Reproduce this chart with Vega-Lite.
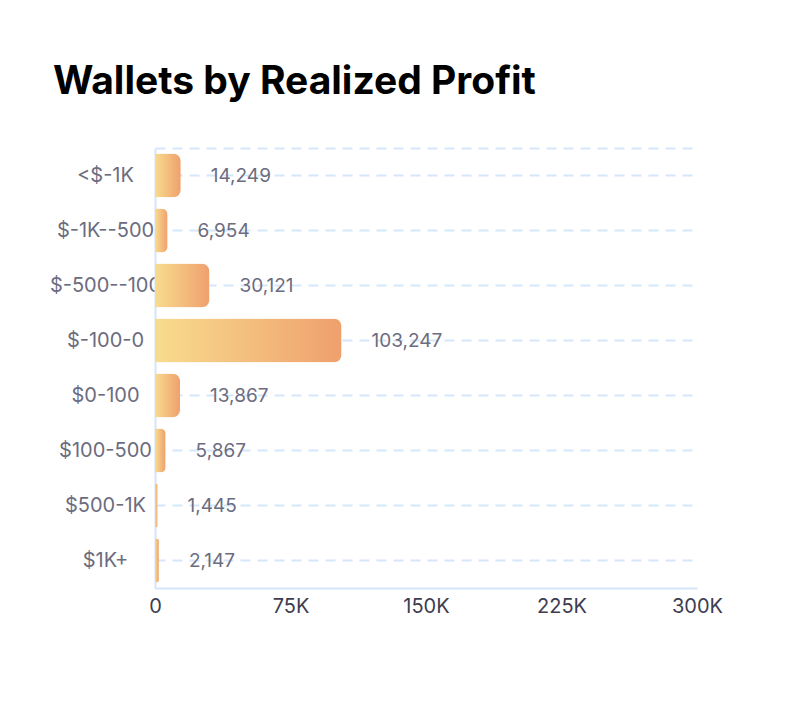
{
  "$schema": "https://vega.github.io/schema/vega-lite/v6.json",
  "width": 542,
  "height": 440,
  "autosize": {"type": "none"},
  "padding": {"left": 155, "top": 148, "right": 114, "bottom": 124},
  "background": "white",
  "title": {
    "text": "Wallets by Realized Profit",
    "anchor": "start",
    "frame": "group",
    "dx": -102,
    "offset": 15,
    "baseline": "alphabetic",
    "font": "Inter",
    "fontSize": 39,
    "fontWeight": "bold",
    "color": "#000000"
  },
  "data": {
    "values": [
      {"bucket": "<$-1K", "wallets": 14249},
      {"bucket": "$-1K--500", "wallets": 6954},
      {"bucket": "$-500--100", "wallets": 30121},
      {"bucket": "$-100-0", "wallets": 103247},
      {"bucket": "$0-100", "wallets": 13867},
      {"bucket": "$100-500", "wallets": 5867},
      {"bucket": "$500-1K", "wallets": 1445},
      {"bucket": "$1K+", "wallets": 2147}
    ]
  },
  "encoding": {
    "y": {
      "field": "bucket",
      "type": "nominal",
      "sort": null,
      "scale": {"paddingInner": 0.2, "paddingOuter": 0.1},
      "axis": {
        "title": null,
        "ticks": false,
        "tickSize": 0,
        "labelAlign": "center",
        "labelBaseline": "middle",
        "labelPadding": 50,
        "labelLimit": 0,
        "labelFont": "Inter",
        "labelFontSize": 20,
        "labelColor": "#6c6c80",
        "domain": true,
        "domainColor": "#d3e6fa",
        "domainWidth": 2,
        "grid": true,
        "gridDash": [10, 7],
        "gridColor": "#d5e8fb",
        "gridWidth": 2
      }
    }
  },
  "layer": [
    {
      "mark": {
        "type": "bar",
        "cornerRadiusEnd": 8,
        "color": {
          "gradient": "linear",
          "x1": 0, "y1": 0, "x2": 1, "y2": 0,
          "stops": [
            {"offset": 0, "color": "#f8dc8e"},
            {"offset": 1, "color": "#efa06d"}
          ]
        }
      },
      "encoding": {
        "x": {
          "field": "wallets",
          "type": "quantitative",
          "scale": {"domain": [0, 300000], "nice": false},
          "axis": {
            "title": null,
            "orient": "bottom",
            "values": [0, 75000, 150000, 225000, 300000],
            "labelExpr": "datum.value == 0 ? '0' : (datum.value / 1000) + 'K'",
            "ticks": false,
            "grid": false,
            "labelFlush": false,
            "labelPadding": 8,
            "labelFont": "Inter",
            "labelFontSize": 20,
            "labelColor": "#3d3d4f",
            "domainColor": "#d3e6fa",
            "domainWidth": 2
          }
        }
      }
    },
    {
      "mark": {
        "type": "text",
        "align": "left",
        "baseline": "middle",
        "dx": 30,
        "font": "Inter",
        "fontSize": 19,
        "color": "#6c6c80"
      },
      "encoding": {
        "x": {
          "field": "wallets",
          "type": "quantitative",
          "axis": {
            "title": null,
            "orient": "top",
            "labels": false,
            "ticks": false,
            "grid": false,
            "domain": true,
            "domainDash": [10, 7],
            "domainColor": "#d5e8fb",
            "domainWidth": 2
          }
        },
        "text": {"field": "wallets", "type": "quantitative", "format": ","}
      }
    }
  ],
  "resolve": {"axis": {"x": "independent"}},
  "config": {"view": {"stroke": null}}
}
